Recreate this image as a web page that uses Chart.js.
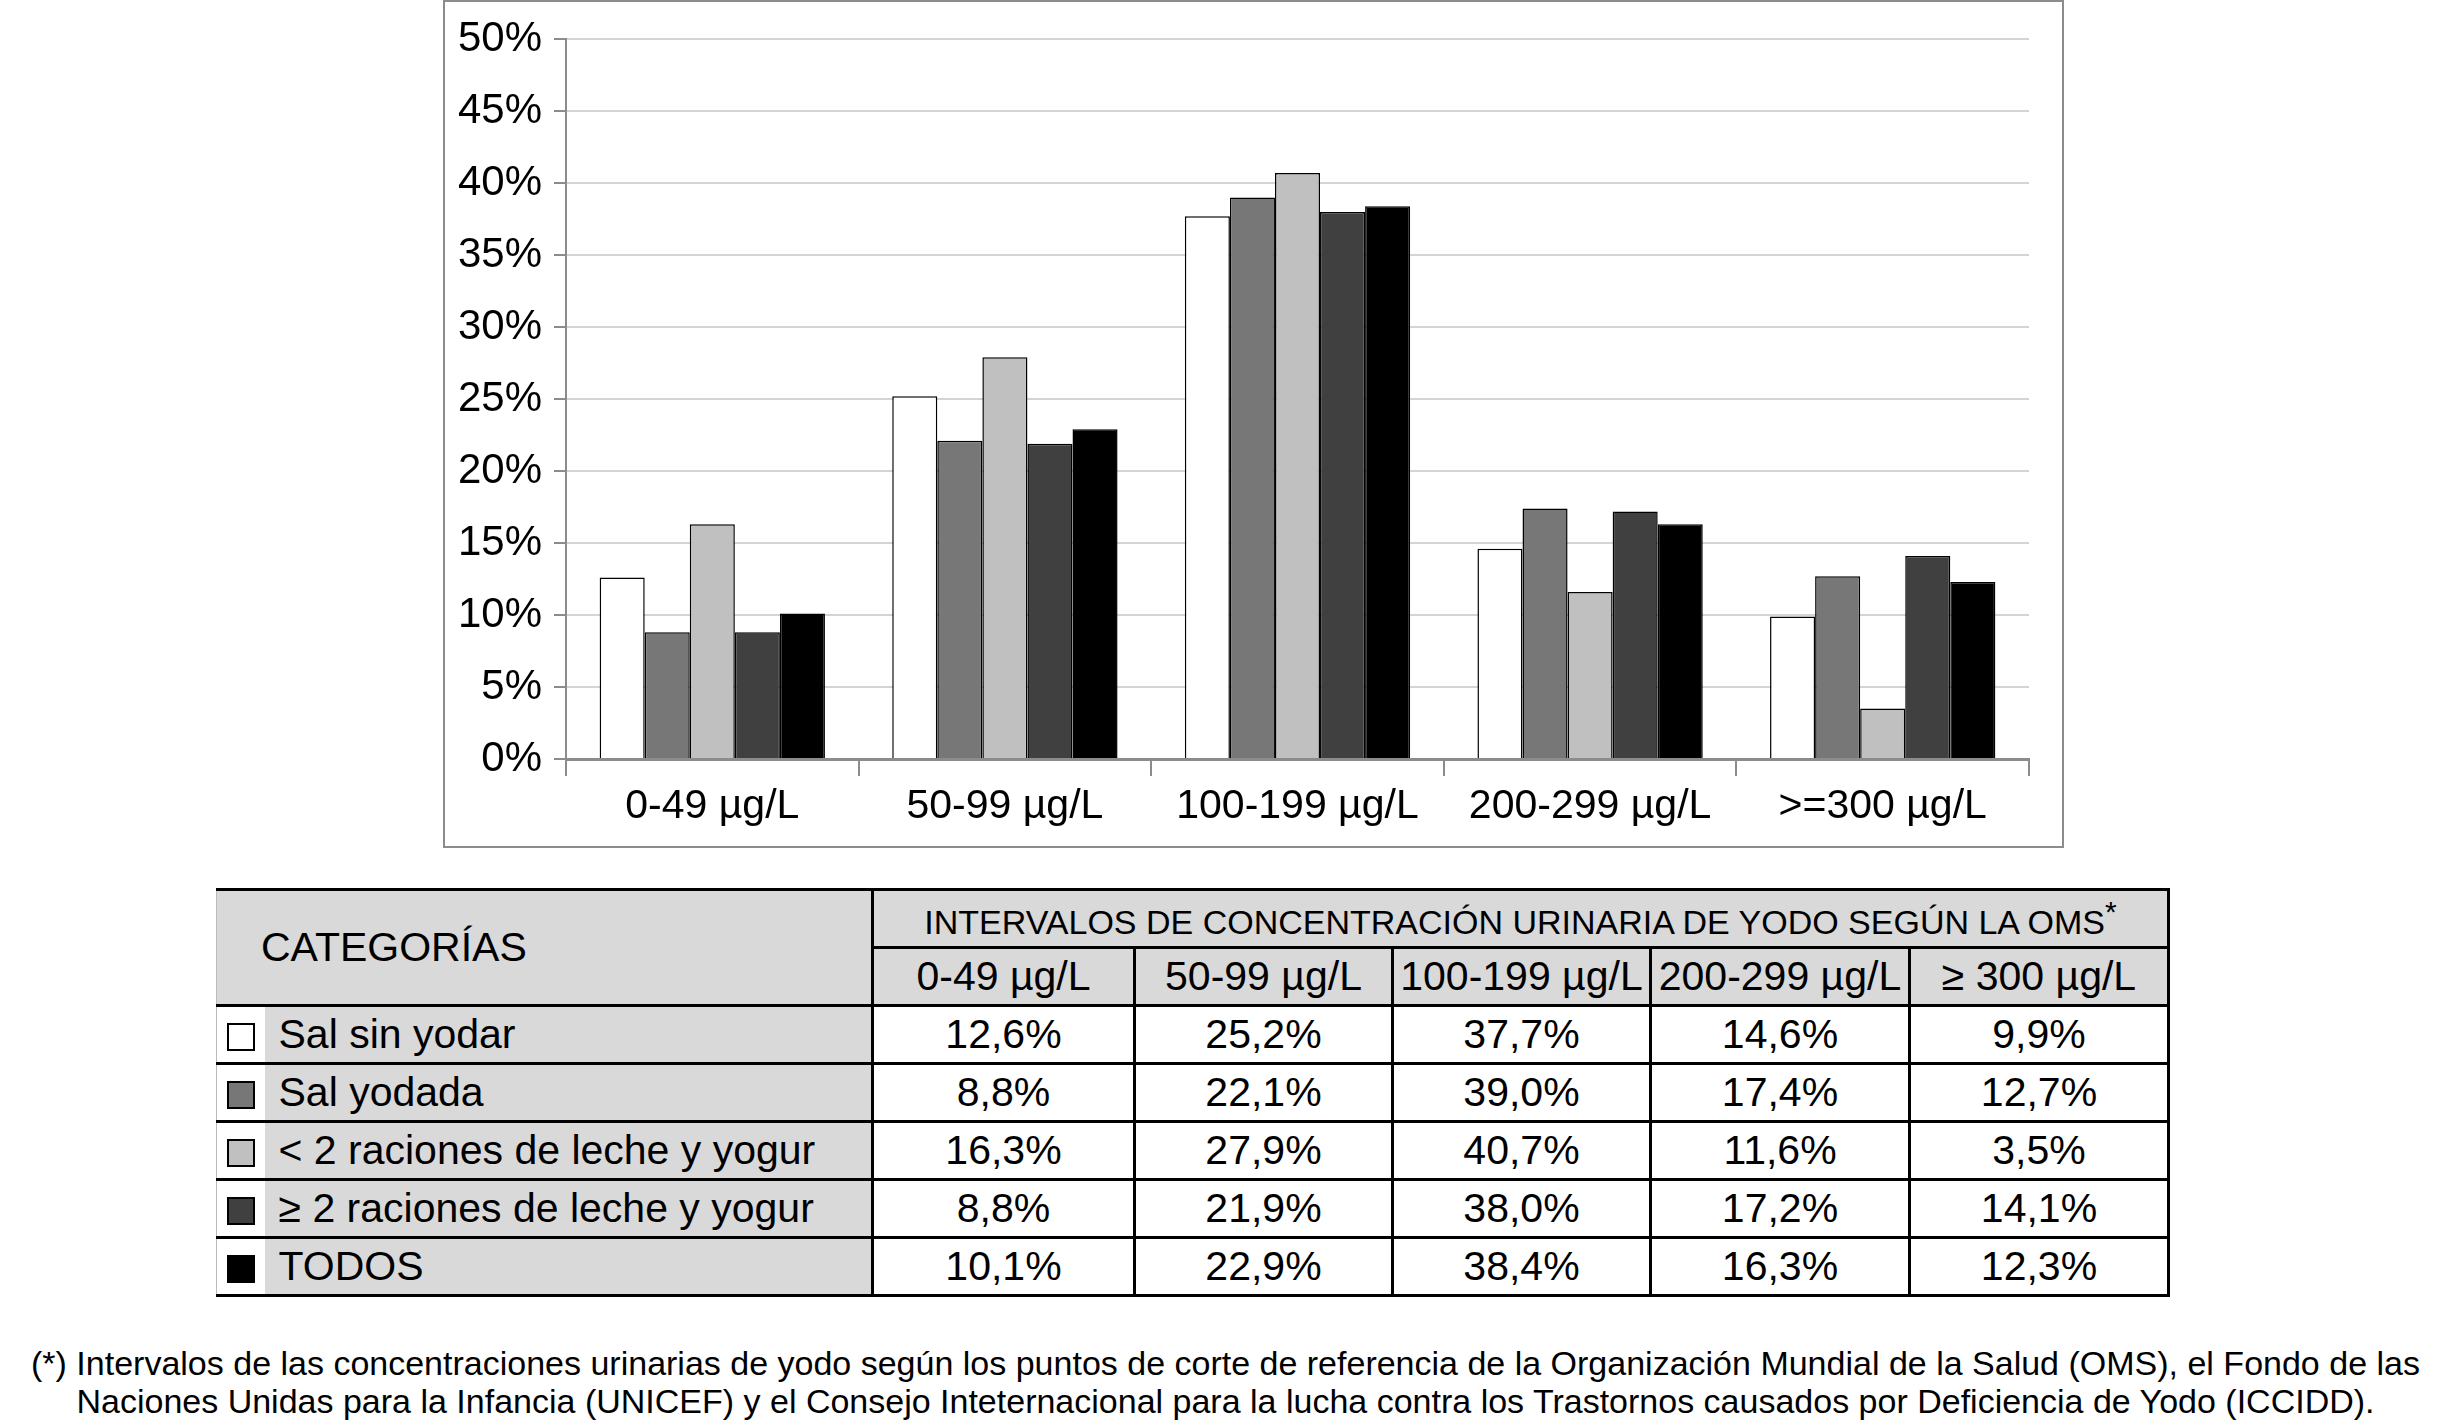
<!DOCTYPE html>
<html lang="es">
<head>
<meta charset="utf-8">
<script src="https://cdn.jsdelivr.net/npm/chart.js@4"></script>
<style>
  html, body { margin: 0; padding: 0; background: #fff; }
  body { width: 2451px; height: 1426px; position: relative; overflow: hidden;
         font-family: "Liberation Sans", Arial, sans-serif; color: #000; }
  #chartBox { position: absolute; left: 443px; top: 0; width: 1621px; height: 848px;
              box-sizing: border-box; border: 2px solid #8c8c8c; }
  #tabla { position: absolute; left: 216px; top: 888px; border-collapse: collapse;
           table-layout: fixed; font-size: 41px; }
  #tabla td { height: 55px; padding: 0; border: 3px solid #000; text-align: center;
              white-space: nowrap; overflow: hidden; background: #fff; }
  #tabla td.gris { background: #d9d9d9; }
  #tabla td.leg { border-left: 1px solid #bbb; border-right: none; background: #fff; text-align: center; }
  #tabla td.cat { border-left: none; text-align: left; padding-left: 14px; }
  #tabla td.head { font-size: 34px; }
  .cuadro { display: inline-block; width: 24px; height: 24px; border: 2px solid #000; vertical-align: middle; }
  #nota { position: absolute; left: 0; top: 1344px; width: 2451px; text-align: center;
          font-size: 34px; line-height: 38px; white-space: nowrap; }
</style>
</head>
<body>
<div id="chartBox"><canvas id="grafico"></canvas></div>
<table id="tabla"></table>
<div id="nota">(*) Intervalos de las concentraciones urinarias de yodo según los puntos de corte de referencia de la Organización Mundial de la Salud (OMS), el Fondo de las<br>Naciones Unidas para la Infancia (UNICEF) y el Consejo Inteternacional para la lucha contra los Trastornos causados por Deficiencia de Yodo (ICCIDD).</div>
<script>
// intervalos (eje x del gráfico y cabecera de la tabla)
const intervalos = ["0-49 µg/L", "50-99 µg/L", "100-199 µg/L", "200-299 µg/L", ">=300 µg/L"];
const intervalosTabla = ["0-49 µg/L", "50-99 µg/L", "100-199 µg/L", "200-299 µg/L", "≥ 300 µg/L"];

// categorías y colores
const categorias = ["Sal sin yodar", "Sal yodada", "< 2 raciones de leche y yogur", "≥ 2 raciones de leche y yogur", "TODOS"];
const colores = ["#ffffff", "#777777", "#c0c0c0", "#404040", "#000000"];

// porcentajes por categoría
const salSinYodar = [12.6, 25.2, 37.7, 14.6, 9.9];
const salYodada = [8.8, 22.1, 39.0, 17.4, 12.7];
const menos2Raciones = [16.3, 27.9, 40.7, 11.6, 3.5];
const mas2Raciones = [8.8, 21.9, 38.0, 17.2, 14.1];
const todos = [10.1, 22.9, 38.4, 16.3, 12.3];
const series = [salSinYodar, salYodada, menos2Raciones, mas2Raciones, todos];

// ticks eje y
const yMin = 0, yMax = 50, yPaso = 5;

function formatPct(v) {
    return v.toFixed(1).replace(".", ",") + "%";
}

// Gráfico de barras
Chart.defaults.font.family = '"Liberation Sans", Arial, sans-serif';
Chart.defaults.color = "#000";

new Chart(document.getElementById("grafico"), {
    type: "bar",
    data: {
        labels: intervalos,
        datasets: series.map((s, i) => ({
            label: categorias[i],
            data: s,
            backgroundColor: colores[i],
            borderColor: "#000",
            borderWidth: 1.5,
            categoryPercentage: 0.77,
            barPercentage: 1.0
        }))
    },
    options: {
        responsive: true,
        maintainAspectRatio: false,
        devicePixelRatio: 1,
        animation: false,
        layout: { padding: { top: 36, right: 33, left: 0, bottom: 0 } },
        plugins: { legend: { display: false }, tooltip: { enabled: false } },
        scales: {
            x: {
                grid: { drawOnChartArea: false, drawTicks: true, tickLength: 17, color: "#8c8c8c", lineWidth: 2 },
                border: { color: "#8c8c8c", width: 3 },
                ticks: { font: { size: 41 }, padding: 6, maxRotation: 0, autoSkip: false },
                afterFit: (scale) => { scale.height = 87; }
            },
            y: {
                min: yMin, max: yMax,
                grid: { color: "#d4d4d4", lineWidth: 2, tickLength: 12, tickColor: "#8c8c8c" },
                border: { color: "#8c8c8c", width: 2 },
                ticks: { stepSize: yPaso, font: { size: 42 }, padding: 12, callback: (v) => v + "%" },
                afterFit: (scale) => { scale.width = 121; }
            }
        }
    }
});

// Tabla de datos
function buildTable() {
    const anchos = [48, 608, 262, 258, 258, 259, 259];
    let html = "<colgroup>" + anchos.map(w => `<col style="width:${w}px">`).join("") + "</colgroup>";
    html += `<tr><td class="gris cat" colspan="2" rowspan="2" style="border-left:1px solid #bbb;padding-left:44px">CATEGORÍAS</td>
             <td class="gris head" colspan="5">INTERVALOS DE CONCENTRACIÓN URINARIA DE YODO SEGÚN LA OMS<sup style="font-size:30px">*</sup></td></tr>`;
    html += "<tr>" + intervalosTabla.map(t => `<td class="gris">${t}</td>`).join("") + "</tr>";
    categorias.forEach((cat, i) => {
        html += `<tr><td class="leg"><span class="cuadro" style="background:${colores[i]}"></span></td>
                 <td class="gris cat">${cat}</td>`;
        series[i].forEach(v => { html += `<td>${formatPct(v)}</td>`; });
        html += "</tr>";
    });
    document.getElementById("tabla").innerHTML = html;
}

buildTable();
</script>
</body>
</html>
